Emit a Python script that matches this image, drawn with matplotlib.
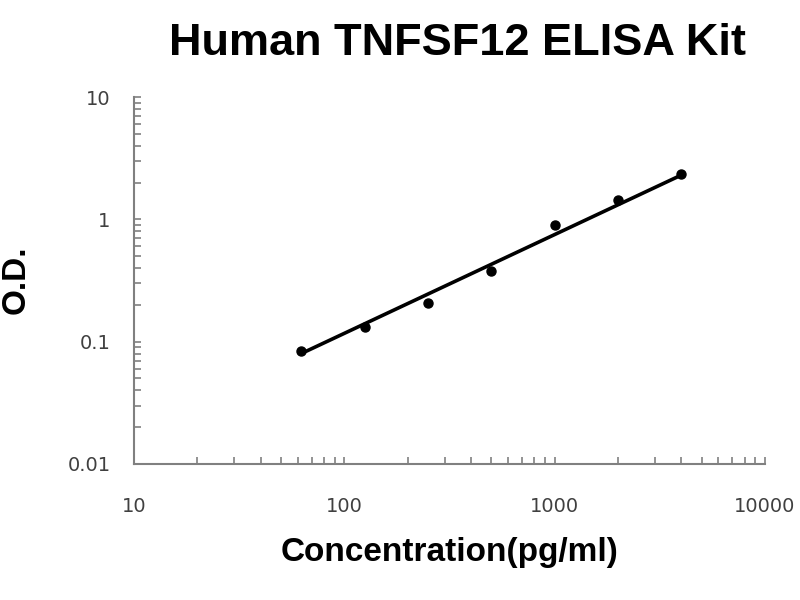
import matplotlib.pyplot as plt
from matplotlib.ticker import LogLocator, NullFormatter, FixedLocator

plt.rcParams['font.family'] = ['Liberation Sans', 'DejaVu Sans']

# standard curve points
conc = [62.5, 125, 250, 500, 1000, 2000, 4000]
od = [0.084, 0.131, 0.206, 0.377, 0.893, 1.43, 2.34]

# trend line ends
fit_conc = [62.5, 4000]
fit_od = [0.08, 2.3]

x_ticks = [10, 100, 1000, 10000]
x_labels = ['10', '100', '1000', '10000']
y_ticks = [0.01, 0.1, 1, 10]
y_labels = ['0.01', '0.1', '1', '10']

fig = plt.figure(figsize=(8, 6), dpi=100)
ax = fig.add_axes([0.1675, 0.2267, 0.7887, 0.6116])

ax.plot(fit_conc, fit_od, color='black', linewidth=2.6, solid_capstyle='butt')
ax.plot(conc, od, 'o', color='black', markersize=6.5)

ax.set_xscale('log')
ax.set_yscale('log')
ax.set_xlim(10, 10000)
ax.set_ylim(0.01, 10)

ax.xaxis.set_major_locator(FixedLocator(x_ticks))
ax.set_xticklabels(x_labels)
ax.yaxis.set_major_locator(FixedLocator(y_ticks))
ax.set_yticklabels(y_labels)
ax.xaxis.set_minor_locator(LogLocator(base=10, subs=range(2, 10)))
ax.yaxis.set_minor_locator(LogLocator(base=10, subs=range(2, 10)))
ax.xaxis.set_minor_formatter(NullFormatter())
ax.yaxis.set_minor_formatter(NullFormatter())

spine_col = '#808080'
for side in ['top', 'right']:
    ax.spines[side].set_visible(False)
for side in ['left', 'bottom']:
    ax.spines[side].set_color(spine_col)
    ax.spines[side].set_linewidth(1.5)

ax.tick_params(which='both', direction='in', color=spine_col, width=1.2, length=5)
for lab in ax.get_xticklabels() + ax.get_yticklabels():
    lab.set_family('DejaVu Sans')
    lab.set_fontsize(14)
    lab.set_color('#404040')
ax.tick_params(axis='x', which='major', pad=24)
ax.tick_params(axis='y', which='major', pad=17)

fig.text(0.572, 0.928, 'Human TNFSF12 ELISA Kit', ha='center', va='center',
         fontsize=32.5, fontweight='bold')
fig.text(0.5625, 1 - 553 / 600, 'Concentration(pg/ml)', ha='center', va='center',
         fontsize=24, fontweight='bold')
fig.text(0.02, 1 - 280 / 600, 'O.D.', ha='center', va='center', rotation=90,
         fontsize=24, fontweight='bold')

fig.savefig('out.png', dpi=100)
